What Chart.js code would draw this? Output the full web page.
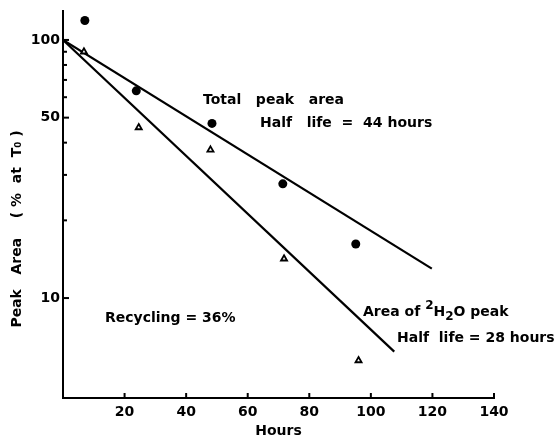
<!DOCTYPE html>
<html>
<head>
<meta charset="utf-8">
<script src="https://cdn.jsdelivr.net/npm/chart.js@4.4.1/dist/chart.umd.min.js"></script>
<style>
    html, body { margin: 0; padding: 0; background: #fff; }
    #wrap { width: 557px; height: 446px; }
</style>
</head>
<body>
<div id="wrap"><canvas id="decayChart" width="557" height="446"></canvas></div>
<script>
// Measured points (hours, % of peak area at T0)
const totalHours = [7.1, 23.8, 48.4, 71.4, 95.1];
const totalArea = [119, 63.5, 47.5, 27.7, 16.2];
const waterHours = [6.8, 24.6, 47.9, 71.8, 96];
const waterArea = [90, 45.8, 37.5, 14.2, 5.73];

// Fitted decay lines (end points)
const totalFitHours = [0, 119.8];
const totalFitArea = [100, 13.0];
const waterFitHours = [0, 107.6];
const waterFitArea = [100, 6.2];

// Axis ticks
const xTicks = [20, 40, 60, 80, 100, 120, 140];
const yTicks = [10, 20, 30, 40, 50, 60, 70, 80, 90, 100];
const yLabels = [10, 50, 100];

const FONT = '"DejaVu Sans", sans-serif';

const toPoints = (xs, ys) => xs.map((x, i) => ({ x: x, y: ys[i] }));

// Inward tick marks, rotated y title and in-plot notes
const decorPlugin = {
    id: 'decor',
    afterDraw(chart) {
        const { ctx, scales: { x, y } } = chart;
        ctx.save();
        ctx.strokeStyle = '#000';
        ctx.lineWidth = 2;
        xTicks.forEach(v => {
            const px = x.getPixelForValue(v);
            ctx.beginPath();
            ctx.moveTo(px, y.bottom);
            ctx.lineTo(px, y.bottom - 5);
            ctx.stroke();
        });
        yTicks.forEach(v => {
            const py = y.getPixelForValue(v);
            const len = yLabels.includes(v) ? 6 : 4;
            ctx.beginPath();
            ctx.moveTo(x.left, py);
            ctx.lineTo(x.left + len, py);
            ctx.stroke();
        });

        ctx.fillStyle = '#000';
        ctx.textBaseline = 'middle';
        ctx.textAlign = 'left';

        // y axis title
        ctx.save();
        ctx.translate(17, 229);
        ctx.rotate(-Math.PI / 2);
        ctx.textAlign = 'center';
        ctx.font = 'bold 14px ' + FONT;
        ctx.fillText('Peak   Area    ( %  at  T\u2080 )', 0, 0);
        ctx.restore();

        ctx.font = 'bold 14px ' + FONT;
        ctx.fillText('Total   peak   area', 203, 100);
        ctx.fillText('Half   life  =  44 hours', 260, 123);
        ctx.fillText('Half  life = 28 hours', 397, 338);
        ctx.fillText('Recycling = 36%', 105, 318);

        // Area of 2H2O peak, with super/subscript
        let cx = 363;
        const part = (txt, size, dy) => {
            ctx.font = 'bold ' + size + 'px ' + FONT;
            ctx.fillText(txt, cx, 312 + dy);
            cx += ctx.measureText(txt).width;
        };
        part('Area of ', 14, 0);
        part('2', 12, -6);
        part('H', 14, 0);
        part('2', 12, 5);
        part('O peak', 14, 0);
        ctx.restore();
    }
};

new Chart(document.getElementById('decayChart').getContext('2d'), {
    type: 'scatter',
    data: {
        datasets: [
            {
                label: 'Total peak area',
                data: toPoints(totalHours, totalArea),
                pointStyle: 'circle',
                pointRadius: 4.5,
                backgroundColor: '#000',
                borderColor: '#000',
                borderWidth: 0
            },
            {
                label: 'Area of 2H2O peak',
                data: toPoints(waterHours, waterArea),
                pointStyle: 'triangle',
                pointRadius: 3.5,
                backgroundColor: '#fff',
                borderColor: '#000',
                borderWidth: 1.8
            },
            {
                label: 'Total fit',
                type: 'line',
                data: toPoints(totalFitHours, totalFitArea),
                borderColor: '#000',
                borderWidth: 2.2,
                pointRadius: 0,
                fill: false
            },
            {
                label: 'Water fit',
                type: 'line',
                data: toPoints(waterFitHours, waterFitArea),
                borderColor: '#000',
                borderWidth: 2.2,
                pointRadius: 0,
                fill: false
            }
        ]
    },
    options: {
        responsive: false,
        animation: false,
        layout: { padding: { left: 0, top: 10, right: 63, bottom: 0 } },
        plugins: {
            legend: { display: false },
            tooltip: { enabled: false }
        },
        scales: {
            x: {
                type: 'linear',
                min: 0,
                max: 140,
                afterFit: scale => { scale.height = 48; },
                afterBuildTicks: scale => { scale.ticks = xTicks.map(v => ({ value: v })); },
                grid: { display: false, drawTicks: false },
                border: { display: true, color: '#000', width: 2 },
                ticks: {
                    color: '#000',
                    padding: 6,
                    maxRotation: 0,
                    font: { family: FONT, size: 14, weight: 'bold' }
                },
                title: {
                    display: true,
                    text: 'Hours',
                    color: '#000',
                    padding: { top: 0, bottom: 6 },
                    font: { family: FONT, size: 14, weight: 'bold' }
                }
            },
            y: {
                type: 'logarithmic',
                min: 4.1,
                max: 129,
                afterFit: scale => { scale.width = 63; },
                afterBuildTicks: scale => { scale.ticks = yLabels.map(v => ({ value: v })); },
                grid: { display: false, drawTicks: false },
                border: { display: true, color: '#000', width: 2 },
                ticks: {
                    color: '#000',
                    padding: 3,
                    font: { family: FONT, size: 14, weight: 'bold' },
                    callback: v => String(v)
                }
            }
        }
    },
    plugins: [decorPlugin]
});
</script>
</body>
</html>
